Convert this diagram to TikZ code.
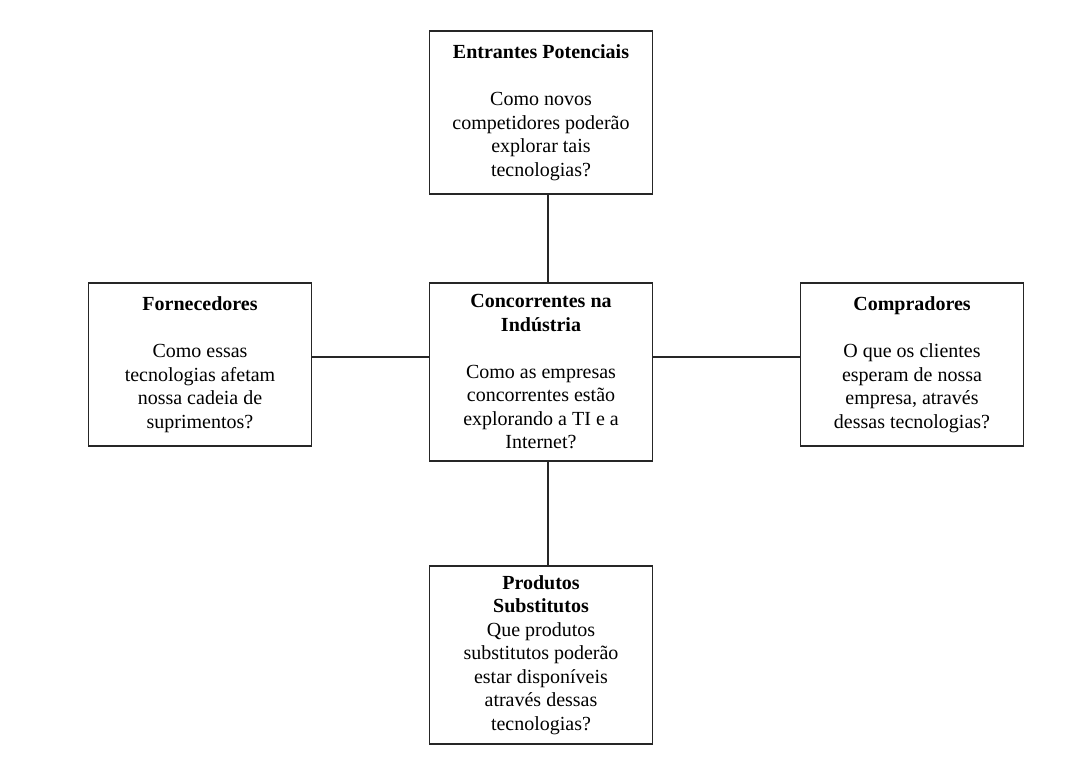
\documentclass[tikz,border=0pt]{standalone}
\usepackage{fontspec}
\setmainfont{Liberation Serif}
\begin{document}
\begin{tikzpicture}[x=1pt,y=-1pt,
  forcebox/.style={draw=black!85, line width=1.6pt, fill=white, rectangle,
    minimum width=223pt, align=center, inner sep=0pt,
    font=\fontsize{20}{23.5}\selectfont},
  link/.style={draw=black!85, line width=1.4pt}]
\useasboundingbox (0,0) rectangle (1065,778);
\node[forcebox, minimum height=163pt] (top) at (541,112.5)
  {\textbf{Entrantes Potenciais}\\[23.5pt]Como novos\\competidores poderão\\explorar tais\\tecnologias?};
\node[forcebox, minimum height=163pt] (left) at (200,364.5)
  {\textbf{Fornecedores}\\[23.5pt]Como essas\\tecnologias afetam\\nossa cadeia de\\suprimentos?};
\node[forcebox, minimum height=178pt] (ctr) at (541,372)
  {\textbf{Concorrentes na}\\\textbf{Indústria}\\[23.5pt]Como as empresas\\concorrentes estão\\explorando a TI e a\\Internet?};
\node[forcebox, minimum height=163pt] (right) at (912,364.5)
  {\textbf{Compradores}\\[23.5pt]O que os clientes\\esperam de nossa\\empresa, através\\dessas tecnologias?};
\node[forcebox, minimum height=178pt] (bot) at (541,655)
  {\textbf{Produtos}\\\textbf{Substitutos}\\Que produtos\\substitutos poderão\\estar disponíveis\\através dessas\\tecnologias?};
\coordinate (cx) at (548,0);
\coordinate (cy) at (0,357);
\draw[link] (top.south -| cx) -- (ctr.north -| cx);
\draw[link] (ctr.south -| cx) -- (bot.north -| cx);
\draw[link] (left.east |- cy) -- (ctr.west |- cy);
\draw[link] (ctr.east |- cy) -- (right.west |- cy);
\end{tikzpicture}
\end{document}
